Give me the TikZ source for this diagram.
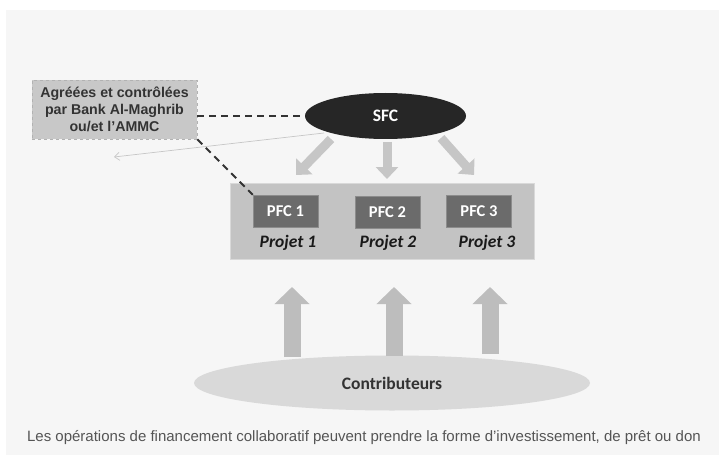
\documentclass[tikz,border=0pt]{standalone}
\usepackage{fontspec}
\setmainfont{Liberation Sans}
\newfontfamily\calibri{Carlito}
\usetikzlibrary{arrows.meta,shapes.geometric}
\definecolor{bgcol}{HTML}{F6F6F6}
\definecolor{regfill}{HTML}{C8C8C8}
\definecolor{sfcfill}{HTML}{262626}
\definecolor{bigfill}{HTML}{C3C3C3}
\definecolor{pfcfill}{HTML}{6B6B6B}
\definecolor{arrcol}{HTML}{C6C6C6}
\definecolor{uparr}{HTML}{BDBDBD}
\definecolor{contfill}{HTML}{D9D9D9}
\definecolor{darktext}{HTML}{333333}
\definecolor{captext}{HTML}{555555}
\begin{document}
\begin{tikzpicture}[x=1pt,y=-1pt,
  regbox/.style={draw=black!30, dashed, line width=0.6pt, fill=regfill, minimum width=165pt, minimum height=59pt, align=center, inner sep=2pt,
    font=\fontsize{14.2}{17}\selectfont\bfseries, text=darktext},
  sfcnode/.style={ellipse, fill=sfcfill, minimum width=161pt, minimum height=46pt, inner sep=0pt, text=white, font=\calibri\bfseries\fontsize{17.5}{20}\selectfont},
  bigbox/.style={fill=bigfill, draw=black!15, line width=0.4pt, minimum width=304pt, minimum height=76pt, inner sep=0pt},
  pfcbox/.style={fill=pfcfill, draw=black!45, line width=0.4pt, minimum width=65pt, minimum height=32pt, inner sep=0pt, text=white, font=\calibri\bfseries\fontsize{16.5}{18}\selectfont},
  projlabel/.style={font=\calibri\bfseries\itshape\fontsize{17.5}{20}\selectfont, text=black!90, inner sep=0pt},
  contnode/.style={ellipse, fill=contfill, minimum width=396pt, minimum height=55pt, inner sep=0pt, text=darktext, font=\calibri\bfseries\fontsize{17.5}{20}\selectfont},
  dashline/.style={draw=darktext, line width=1.8pt, dash pattern=on 7pt off 5pt},
  thinarrow/.style={draw=black!22, line width=0.7pt, -{Straight Barb[length=5pt,width=8pt]}},
  downarrow/.style={draw=arrcol, line width=9pt, -{Triangle[length=12pt,width=22pt]}},
  uparrow/.style={draw=uparr, line width=17pt, -{Triangle[length=17pt,width=34pt]}},
  caption/.style={font=\fontsize{15}{18}\selectfont, text=captext, inner sep=0pt}
]
\useasboundingbox (0,0) rectangle (719,457);
\fill[white] (0,0) rectangle (719,457);
\fill[bgcol] (6,10) rectangle (719,455);

% top part
\node[regbox] (reg) at (114.5,109.5) {Agréées et contrôlées\\par Bank Al-Maghrib\\ou/et l’AMMC};
\node[sfcnode] (sfc) at (385.5,116) {SFC};
\node[bigbox] (big) at (382,221) {};
\node[pfcbox] (pfc1) at (285.5,211) {PFC 1};
\node[pfcbox] (pfc2) at (387.5,212) {PFC 2};
\node[pfcbox] (pfc3) at (479,211) {PFC 3};
\node[projlabel] (pj1) at (288,243) {Projet 1};
\node[projlabel] (pj2) at (388,243) {Projet 2};
\node[projlabel] (pj3) at (487,243) {Projet 3};

% dashed links
\draw[dashline] (reg.east |- sfc.west) -- (sfc.west);
\draw[dashline] (reg.south east) -- (pfc1.north west);

% thin arrow
\coordinate (thinstart) at (324,133);
\coordinate (thinend) at (114,157);
\draw[thinarrow] (thinstart) -- (thinend);

% arrows from SFC to projects
\coordinate (d1s) at (331,139);
\coordinate (d1e) at (296,175);
\coordinate (d2s) at (387,142);
\coordinate (d2e) at (387,179);
\coordinate (d3s) at (441,138);
\coordinate (d3e) at (474,175);
\draw[downarrow] (d1s) -- (d1e);
\draw[downarrow] (d2s) -- (d2e);
\draw[downarrow] (d3s) -- (d3e);

% contributors
\node[contnode] (cont) at (392,383) {Contributeurs};
\coordinate (u1s) at (292,357);
\coordinate (u1e) at (292,287);
\coordinate (u2s) at (394,356);
\coordinate (u2e) at (394,287);
\coordinate (u3s) at (490,354);
\coordinate (u3e) at (490,287);
\draw[uparrow] (u1s) -- (u1e);
\draw[uparrow] (u2s) -- (u2e);
\draw[uparrow] (u3s) -- (u3e);

% caption
\node[caption] (cap) at (364,438) {Les opérations de financement collaboratif peuvent prendre la forme d’investissement, de prêt ou don};
\end{tikzpicture}
\end{document}
